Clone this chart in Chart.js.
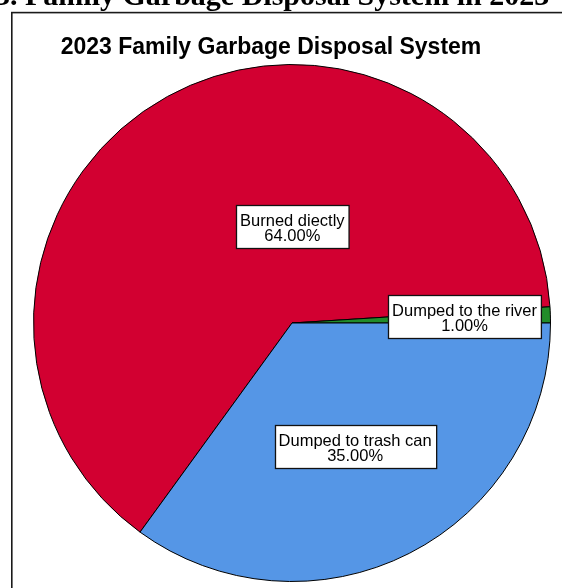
<!DOCTYPE html>
<html>
<head>
<meta charset="utf-8">
<script src="https://cdn.jsdelivr.net/npm/chart.js@4.4.0/dist/chart.umd.min.js"></script>
<style>
  html, body { margin: 0; padding: 0; background: #fff; overflow: hidden; }
  #wrap { position: relative; width: 562px; height: 588px; }
</style>
</head>
<body>
<div id="wrap"><canvas id="c" width="562" height="588"></canvas></div>
<script>
// Household garbage disposal, 2023 (share of families, %)
const categories = ['Burned diectly', 'Dumped to the river', 'Dumped to trash can'];
const shares = [64.00, 1.00, 35.00];
const sliceColors = ['#D20031', '#228C2A', '#5596E6'];

const captionText = '3. Family Garbage Disposal System in 2023';
const chartTitle = '2023 Family Garbage Disposal System';

// Label placement per slice: fraction of radius from the centre, and an angular nudge (deg)
const labelRadius = [0.372, 0.668, 0.538];
const labelNudge = [29, -0.5, 0];

const frameAndTitles = {
  id: 'frameAndTitles',
  beforeDraw(chart) {
    const ctx = chart.ctx;
    ctx.save();
    ctx.fillStyle = '#fff';
    ctx.fillRect(0, 0, chart.width, chart.height);
    // document caption, running off the top edge
    ctx.fillStyle = '#000';
    ctx.font = 'bold 30px "Liberation Serif", "Times New Roman", serif';
    ctx.textBaseline = 'alphabetic';
    ctx.textAlign = 'left';
    ctx.fillText(captionText, -5, 5);
    // chart frame
    ctx.strokeStyle = '#1a1a1a';
    ctx.lineWidth = 1.6;
    ctx.strokeRect(11.8, 12.6, 700, 700);
    // chart title
    ctx.font = 'bold 23px "Liberation Sans", Arial, sans-serif';
    ctx.textAlign = 'center';
    ctx.fillText(chartTitle, 271, 54);
    ctx.restore();
  }
};

const sliceLabels = {
  id: 'sliceLabels',
  afterDatasetsDraw(chart) {
    const ctx = chart.ctx;
    const arcs = chart.getDatasetMeta(0).data;
    ctx.save();
    ctx.font = '16.5px "Liberation Sans", Arial, sans-serif';
    ctx.textAlign = 'center';
    ctx.textBaseline = 'alphabetic';
    arcs.forEach((arc, i) => {
      const p = arc.getProps(['x', 'y', 'startAngle', 'endAngle', 'outerRadius'], true);
      const mid = (p.startAngle + p.endAngle) / 2 + labelNudge[i] * Math.PI / 180;
      const r = p.outerRadius * labelRadius[i];
      const cx = p.x + Math.cos(mid) * r;
      const cy = p.y + Math.sin(mid) * r;
      const lines = [categories[i], shares[i].toFixed(2) + '%'];
      const w = Math.max(...lines.map(t => ctx.measureText(t).width)) + 8;
      const h = 43;
      const bx = Math.round(cx - w / 2) + 0.5;
      const by = Math.round(cy - h / 2) + 0.5;
      ctx.fillStyle = '#fff';
      ctx.fillRect(bx, by, w, h);
      ctx.strokeStyle = '#111';
      ctx.lineWidth = 1.3;
      ctx.strokeRect(bx, by, w, h);
      ctx.fillStyle = '#000';
      ctx.fillText(lines[0], cx, cy - 0.5);
      ctx.fillText(lines[1], cx, cy + 14.5);
    });
    ctx.restore();
  }
};

new Chart(document.getElementById('c'), {
  type: 'pie',
  data: {
    labels: categories,
    datasets: [{
      data: shares,
      backgroundColor: sliceColors,
      borderColor: '#000',
      borderWidth: 1,
      hoverOffset: 0,
      offset: 0
    }]
  },
  options: {
    responsive: false,
    animation: false,
    events: [],
    rotation: 216,
    layout: { padding: { left: 33, top: 64, right: 11, bottom: 6 } },
    plugins: {
      legend: { display: false },
      tooltip: { enabled: false },
      title: { display: false }
    }
  },
  plugins: [frameAndTitles, sliceLabels]
});
</script>
</body>
</html>
